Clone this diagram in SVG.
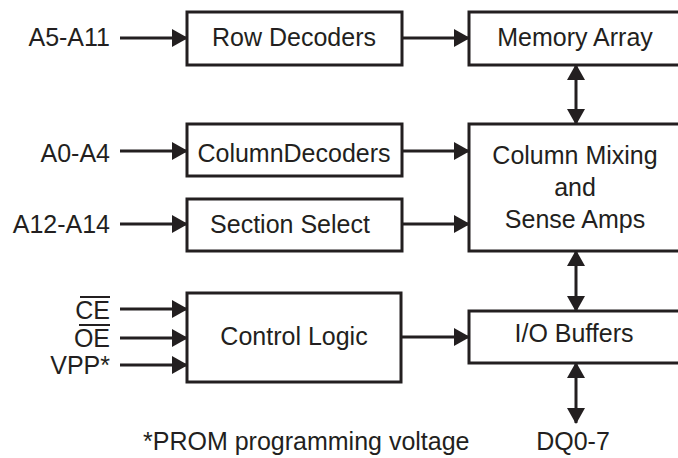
<svg xmlns="http://www.w3.org/2000/svg" width="678" height="458" viewBox="0 0 678 458">
  <style>
    .box { fill: #ffffff; stroke: #231f20; stroke-width: 3; }
    .lbl { font-family: "Liberation Sans", Arial, sans-serif; font-size: 25px; fill: #231f20; }
    .mid { text-anchor: middle; }
    .end { text-anchor: end; }
    .wire { stroke: #231f20; stroke-width: 3; fill: none; }
    .one { marker-end: url(#head); }
    .two { marker-start: url(#head); marker-end: url(#head); }
    .bar { stroke: #231f20; stroke-width: 2; }
  </style>
  <defs>
    <marker id="head" viewBox="0 0 16 18" markerWidth="16" markerHeight="18" refX="15" refY="9" orient="auto-start-reverse" markerUnits="userSpaceOnUse">
      <path d="M0,0 L16,9 L0,18 Z" fill="#231f20"/>
    </marker>
  </defs>
  <rect width="678" height="458" fill="#ffffff"/>

  <!-- blocks -->
  <g id="row-decoders">
    <rect class="box" x="187" y="12" width="215" height="53"/>
    <text class="lbl mid" x="294" y="46">Row Decoders</text>
  </g>
  <g id="memory-array">
    <rect class="box" x="469" y="12" width="230" height="53"/>
    <text class="lbl mid" x="575" y="46">Memory Array</text>
  </g>
  <g id="column-decoders">
    <rect class="box" x="187" y="124" width="215" height="52"/>
    <text class="lbl mid" x="294" y="162">ColumnDecoders</text>
  </g>
  <g id="section-select">
    <rect class="box" x="187" y="199" width="215" height="52"/>
    <text class="lbl mid" x="290" y="233">Section Select</text>
  </g>
  <g id="column-mixing">
    <rect class="box" x="469" y="124" width="230" height="127"/>
    <text class="lbl mid" x="575" y="164">Column Mixing</text>
    <text class="lbl mid" x="575" y="196">and</text>
    <text class="lbl mid" x="575" y="228">Sense Amps</text>
  </g>
  <g id="control-logic">
    <rect class="box" x="187" y="293" width="214" height="89"/>
    <text class="lbl mid" x="294" y="345">Control Logic</text>
  </g>
  <g id="io-buffers">
    <rect class="box" x="469" y="311" width="230" height="52"/>
    <text class="lbl mid" x="574" y="342">I/O Buffers</text>
  </g>

  <!-- signal names -->
  <g id="inputs">
    <text class="lbl end" x="110" y="46">A5-A11</text>
    <text class="lbl end" x="110" y="162">A0-A4</text>
    <text class="lbl end" x="110" y="233">A12-A14</text>
    <text class="lbl end" x="110" y="319">CE</text>
    <line class="bar" x1="80" y1="297" x2="110" y2="297"/>
    <text class="lbl end" x="110" y="347">OE</text>
    <line class="bar" x1="79" y1="325" x2="110" y2="325"/>
    <text class="lbl end" x="110" y="374">VPP*</text>
  </g>
  <g id="data-bus">
    <text class="lbl mid" x="573" y="450">DQ0-7</text>
  </g>
  <g id="footnote">
    <text class="lbl" x="143" y="450">*PROM programming voltage</text>
  </g>

  <!-- connectors -->
  <g id="connectors">
    <line class="wire one" x1="120" y1="38" x2="187" y2="38"/>
    <line class="wire one" x1="402" y1="38" x2="469" y2="38"/>
    <line class="wire one" x1="120" y1="151" x2="187" y2="151"/>
    <line class="wire one" x1="402" y1="151" x2="469" y2="151"/>
    <line class="wire one" x1="120" y1="224" x2="187" y2="224"/>
    <line class="wire one" x1="402" y1="224" x2="469" y2="224"/>
    <line class="wire one" x1="120" y1="309" x2="187" y2="309"/>
    <line class="wire one" x1="120" y1="338" x2="187" y2="338"/>
    <line class="wire one" x1="120" y1="365" x2="187" y2="365"/>
    <line class="wire one" x1="401" y1="337" x2="469" y2="337"/>
    <line class="wire two" x1="576" y1="65" x2="576" y2="124"/>
    <line class="wire two" x1="576" y1="251" x2="576" y2="311"/>
    <line class="wire two" x1="576" y1="363" x2="576" y2="423"/>
  </g>
</svg>
